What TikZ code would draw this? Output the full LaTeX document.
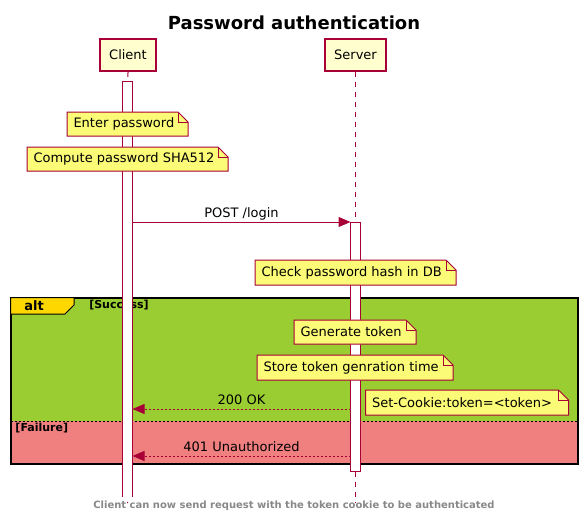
\documentclass[tikz,border=0pt]{standalone}
\usepackage{fontspec}
\setmainfont{DejaVu Sans}
\usetikzlibrary{arrows.meta}
\definecolor{crim}{HTML}{A80036}
\definecolor{partbg}{HTML}{FEFECE}
\definecolor{notebg}{HTML}{FBFB77}
\definecolor{okbg}{HTML}{9ACD32}
\definecolor{failbg}{HTML}{F08080}
\definecolor{tabbg}{HTML}{FFD700}
\definecolor{footgray}{HTML}{888888}
\newcommand\notebox[6]{%
  \filldraw[notepath] (#2,#3) -- (#4-10,#3) -- (#4,#3+10) -- (#4,#5) -- (#2,#5) -- cycle;
  \draw[notepath,fill=none] (#4-10,#3) -- (#4-10,#3+10) -- (#4,#3+10);
  \node[txt,anchor=west] (#1) at (#2+6,{(#3+#5)/2}) {#6};}
\begin{document}
\begin{tikzpicture}[x=1pt,y=-1pt,line width=1pt,
  txt/.style={inner sep=0pt,text=black,font=\fontsize{13}{15}\selectfont},
  party/.style={txt,draw=crim,fill=partbg,line width=1.5pt,inner xsep=9pt,minimum height=32pt},
  notepath/.style={draw=crim,fill=notebg},
  life/.style={crim,dash pattern=on 5pt off 5pt},
  actbar/.style={crim,fill=white},
  msg/.style={crim,-{Triangle[length=12pt,width=10pt]}},
  reply/.style={msg,dash pattern=on 2pt off 2pt},
  guard/.style={inner sep=0pt,text=black,font=\fontsize{11}{13}\selectfont\bfseries}]
  \useasboundingbox (0,0) rectangle (584,517);
  \node[inner sep=0pt,font=\fontsize{18}{21}\selectfont\bfseries] (title) at (294,23) {Password authentication};
  \node[party] (client) at (128,55) {Client};
  \node[party] (server) at (355.5,55) {Server};
  \fill[okbg] (10.5,297.5) rectangle (578,421);
  \fill[failbg] (10.5,421) rectangle (578,464);
  \draw[black,dash pattern=on 2pt off 2pt] (10.5,421) -- (578,421);
  \draw[line width=2pt] (10.5,297.5) rectangle (578,464);
  \filldraw[fill=tabbg] (10.5,297.5) -- (74,297.5) -- (74,305) -- (65,314) -- (10.5,314) -- cycle;
  \node[guard,font=\fontsize{13}{15}\selectfont\bfseries] (alt) at (34,306) {alt};
  \node[guard] (success) at (119,305.5) {[Success]};
  \node[guard,anchor=west] (failure) at (15,428) {[Failure]};
  \draw[life] (client.south) -- (127.5,503);
  \draw[life] (server.south) -- (355.5,503);
  \fill[white] (122.5,81) rectangle (132.5,497);
  \draw[crim] (122.5,497) -- (122.5,81) -- (132.5,81) -- (132.5,497);
  \filldraw[actbar] (350.5,222) rectangle (360.5,471);
  \notebox{enter}{67}{112}{188}{136}{Enter password}
  \notebox{hash}{27}{147}{228}{171}{Compute password SHA512}
  \notebox{check}{255}{260}{456}{285}{Check password hash in DB}
  \notebox{gen}{294}{320}{416}{344}{Generate token}
  \notebox{store}{257}{355}{453}{380}{Store token genration time}
  \notebox{cookie}{365.5}{390}{568.5}{415}{Set-Cookie:token=<token>}
  \coordinate (postc) at (132.5,222);
  \coordinate (posts) at (350.5,222);
  \draw[msg] (postc) -- node[txt,midway,yshift=8pt] (postlbl) {POST /login} (posts);
  \coordinate (okc) at (132.5,409);
  \coordinate (oks) at (350.5,409);
  \draw[reply] (oks) -- node[txt,midway,yshift=9pt] (oklbl) {200 OK} (okc);
  \coordinate (badc) at (132.5,456);
  \coordinate (bads) at (350.5,456);
  \draw[reply] (bads) -- node[txt,midway,yshift=9pt] (badlbl) {401 Unauthorized} (badc);
  \node[inner sep=0pt,text=footgray,font=\fontsize{10}{12}\selectfont\bfseries] (footer) at (294,506) {Client can now send request with the token cookie to be authenticated};
\end{tikzpicture}
\end{document}
